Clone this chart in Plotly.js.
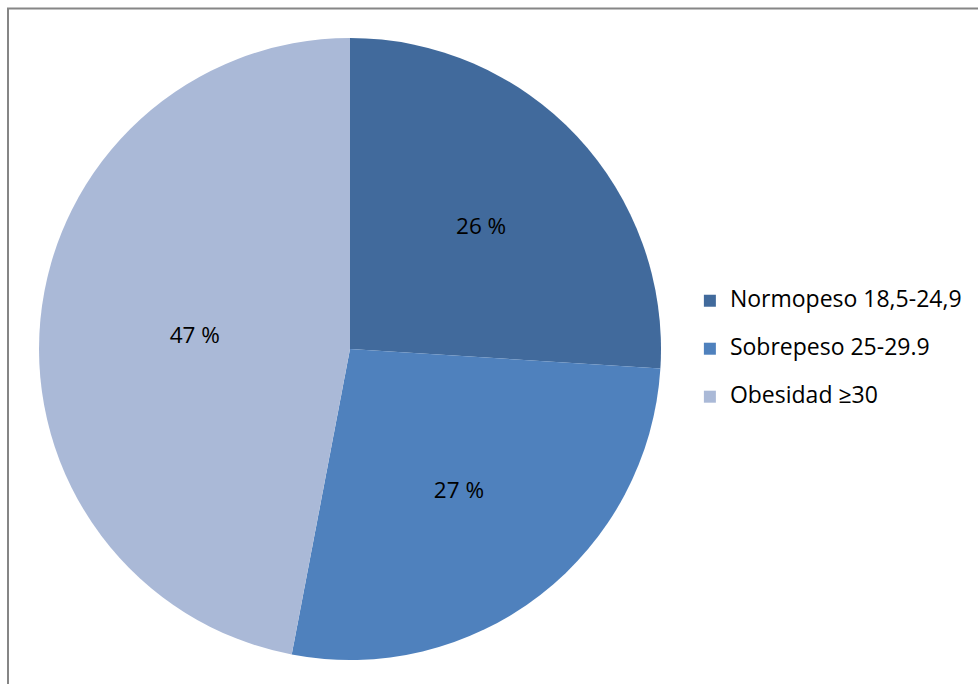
<!DOCTYPE html>
<html>
<head>
<meta charset="utf-8">
<script src="https://cdn.plot.ly/plotly-3.0.1.min.js"></script>
<style>html,body{margin:0;padding:0;background:#fff;}#chart{width:978px;height:684px;}</style>
</head>
<body>
<div id="chart"></div>
<script>
const categories = ["Normopeso 18,5-24,9", "Sobrepeso 25-29.9", "Obesidad \u226530"];
const values = [26, 27, 47];
const colors = ["#416A9C", "#4F81BD", "#AAB9D7"];

const W = 978, H = 684;
// pie bounding box in pixels
const cx = 350, cy = 349, r = 311;

// legend entries: larger visible text, extra blank line for row spacing
const legendLabels = categories.map(c => '<span style="font-size:23px">' + c + '</span><br> ');

const trace = {
  type: "pie",
  labels: legendLabels,
  values: values,
  sort: false,
  direction: "clockwise",
  rotation: 0,
  marker: {colors: colors, line: {color: "#ffffff", width: 0}},
  texttemplate: "%{value} %",
  textposition: "inside",
  insidetextorientation: "horizontal",
  textfont: {family: "'Open Sans', sans-serif", size: 22.5, color: "#000000"},
  hoverinfo: "none",
  domain: {
    x: [(cx - r) / W, (cx + r) / W],
    y: [(H - (cy + r)) / H, (H - (cy - r)) / H]
  }
};

const layout = {
  width: W, height: H,
  margin: {l: 0, r: 0, t: 0, b: 0},
  paper_bgcolor: "#ffffff",
  showlegend: true,
  legend: {
    x: 0.7054, y: 0.4737, xanchor: "left", yanchor: "middle",
    font: {family: "'Open Sans', sans-serif", size: 17.3, color: "#000000"},
    valign: "top",
    itemclick: false
  },
  shapes: [{
    type: "rect", xref: "paper", yref: "paper",
    x0: 8 / W, x1: 1.02, y0: -0.02, y1: 1 - 8.5 / H,
    line: {color: "#868686", width: 2}
  }]
};

Plotly.newPlot("chart", [trace], layout, {displayModeBar: false, staticPlot: true});
</script>
</body>
</html>
